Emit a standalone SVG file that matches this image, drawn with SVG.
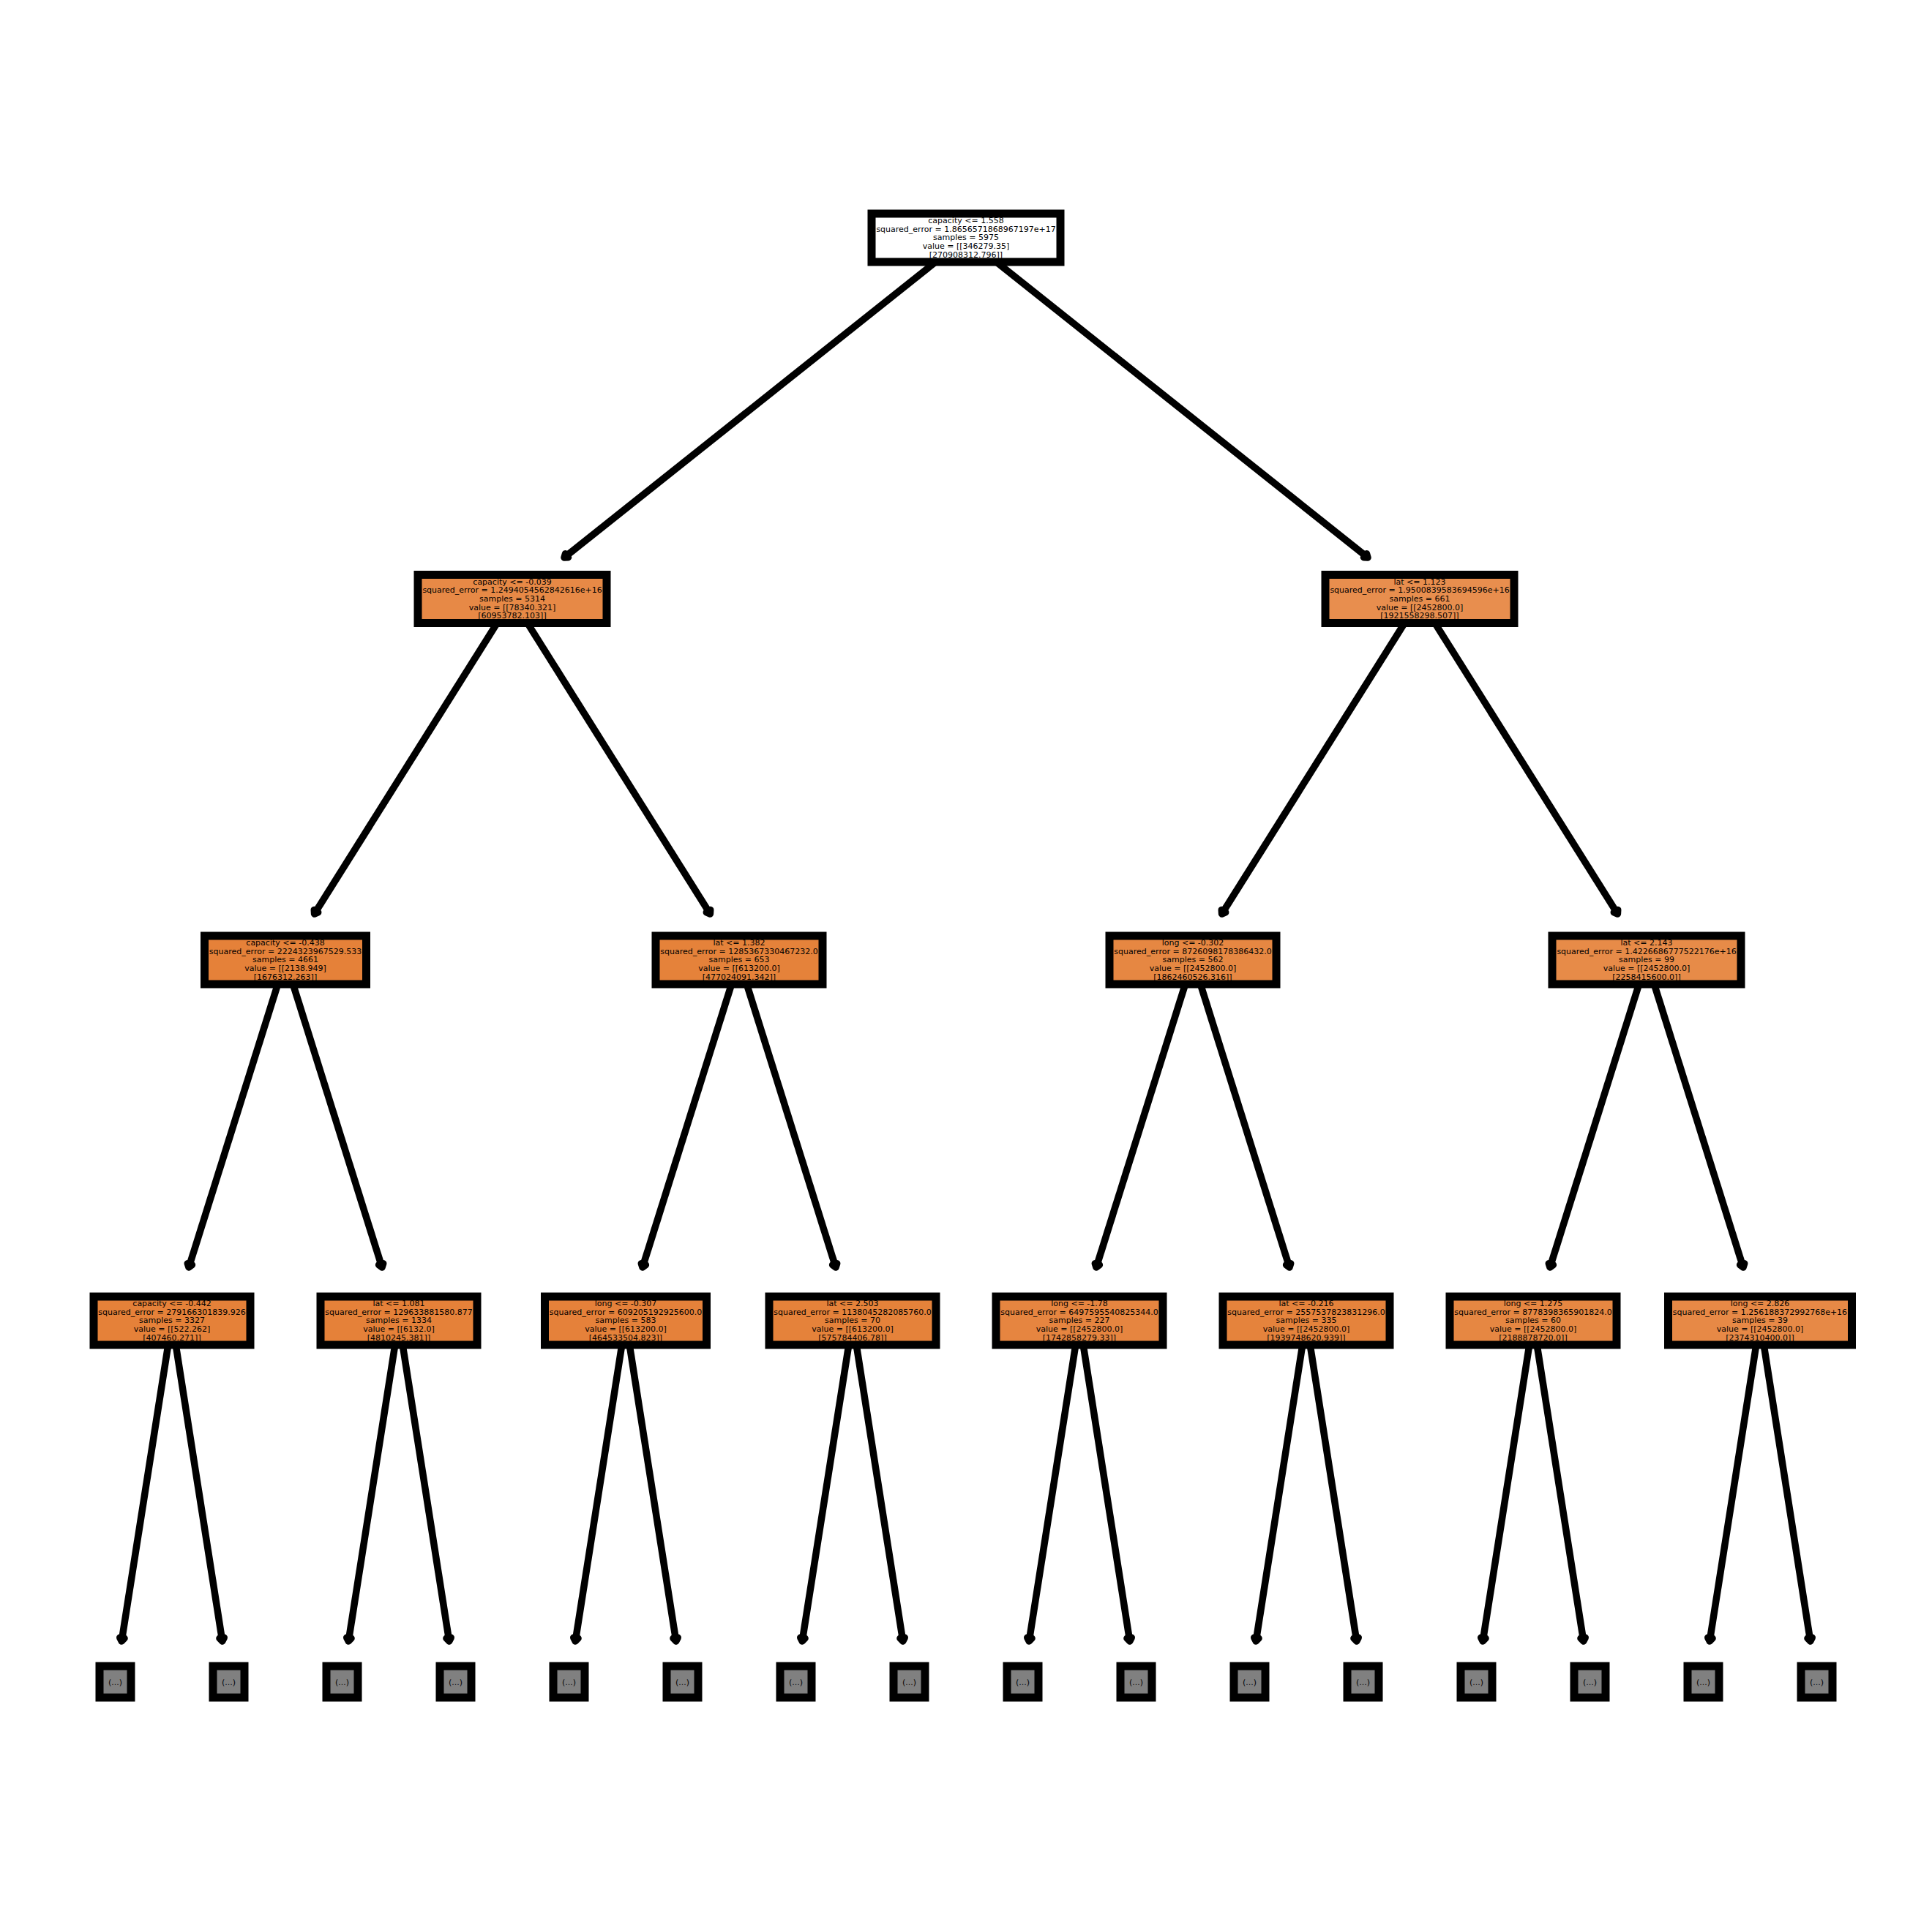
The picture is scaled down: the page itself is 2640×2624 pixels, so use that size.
<svg xmlns="http://www.w3.org/2000/svg" width="2640" height="2624" viewBox="0 0 2640 2624">
  <style>
    .frame { fill: none; stroke: #000; stroke-width: 11; }
    .t { font-family: "DejaVu Sans", "Liberation Sans", sans-serif; font-size: 11px; text-anchor: middle; fill: #000; }
    .edge { fill: none; stroke: #000; stroke-width: 9.5; marker-end: url(#tip); }
    .leaf { fill: #808080; }
  </style>
  <defs>
    <marker id="tip" markerUnits="userSpaceOnUse" orient="auto" viewBox="-12 -12 24 24" markerWidth="24" markerHeight="24" refX="0" refY="0" overflow="visible">
      <path d="M-4.5,-3.2 L0,0 L-4.5,3.2" fill="none" stroke="#000" stroke-width="9.5" stroke-linejoin="round" stroke-linecap="round"/>
    </marker>
  </defs>
  <rect width="2640" height="2624" fill="#fff"/>

  <!-- parent-to-child connectors -->
  <g id="edges">
    <path class="edge" d="M1320,325 L771,762"/>
    <path class="edge" d="M1320,325 L1869,762"/>
    <path class="edge" d="M700,818.5 L429.6,1249"/>
    <path class="edge" d="M700,818.5 L970.4,1249"/>
    <path class="edge" d="M1940,818.5 L1669.6,1249"/>
    <path class="edge" d="M1940,818.5 L2210.4,1249"/>
    <path class="edge" d="M390,1312 L258,1732"/>
    <path class="edge" d="M390,1312 L522,1732"/>
    <path class="edge" d="M1010,1312 L878,1732"/>
    <path class="edge" d="M1010,1312 L1142,1732"/>
    <path class="edge" d="M1630,1312 L1498,1732"/>
    <path class="edge" d="M1630,1312 L1762,1732"/>
    <path class="edge" d="M2250,1312 L2118,1732"/>
    <path class="edge" d="M2250,1312 L2382,1732"/>
    <path class="edge" d="M235,1805 L166.2,2243"/>
    <path class="edge" d="M235,1805 L303.8,2243"/>
    <path class="edge" d="M545,1805 L476.2,2243"/>
    <path class="edge" d="M545,1805 L613.8,2243"/>
    <path class="edge" d="M855,1805 L786.2,2243"/>
    <path class="edge" d="M855,1805 L923.8,2243"/>
    <path class="edge" d="M1165,1805 L1096.2,2243"/>
    <path class="edge" d="M1165,1805 L1233.8,2243"/>
    <path class="edge" d="M1475,1805 L1406.2,2243"/>
    <path class="edge" d="M1475,1805 L1543.8,2243"/>
    <path class="edge" d="M1785,1805 L1716.2,2243"/>
    <path class="edge" d="M1785,1805 L1853.8,2243"/>
    <path class="edge" d="M2095,1805 L2026.2,2243"/>
    <path class="edge" d="M2095,1805 L2163.8,2243"/>
    <path class="edge" d="M2405,1805 L2336.2,2243"/>
    <path class="edge" d="M2405,1805 L2473.8,2243"/>
  </g>

  <!-- root -->
  <g id="node0">
    <rect x="1191" y="292" width="258" height="66" fill="#ffffff"/>
    <text class="t"><tspan x="1320" y="305.2">capacity &lt;= 1.558</tspan><tspan x="1320" y="316.8">squared_error = 1.8656571868967197e+17</tspan><tspan x="1320" y="328.4">samples = 5975</tspan><tspan x="1320" y="340">value = [[346279.35]</tspan><tspan x="1320" y="351.6">[270908312.796]]</tspan></text>
    <rect class="frame" x="1191" y="292" width="258" height="66"/>
  </g>

  <!-- depth 1 -->
  <g id="node1">
    <rect x="571" y="785.5" width="258" height="66" fill="#e78946"/>
    <text class="t"><tspan x="700" y="798.7">capacity &lt;= -0.039</tspan><tspan x="700" y="810.3">squared_error = 1.2494054562842616e+16</tspan><tspan x="700" y="821.9">samples = 5314</tspan><tspan x="700" y="833.5">value = [[78340.321]</tspan><tspan x="700" y="845.1">[60953782.103]]</tspan></text>
    <rect class="frame" x="571" y="785.5" width="258" height="66"/>
  </g>
  <g id="node2">
    <rect x="1811" y="785.5" width="258" height="66" fill="#e88e4e"/>
    <text class="t"><tspan x="1940" y="798.7">lat &lt;= 1.123</tspan><tspan x="1940" y="810.3">squared_error = 1.9500839583694596e+16</tspan><tspan x="1940" y="821.9">samples = 661</tspan><tspan x="1940" y="833.5">value = [[2452800.0]</tspan><tspan x="1940" y="845.1">[1921558298.507]]</tspan></text>
    <rect class="frame" x="1811" y="785.5" width="258" height="66"/>
  </g>

  <!-- depth 2 -->
  <g id="node3">
    <rect x="279.5" y="1279" width="221" height="66" fill="#e58139"/>
    <text class="t"><tspan x="390" y="1292.2">capacity &lt;= -0.438</tspan><tspan x="390" y="1303.8">squared_error = 2224323967529.533</tspan><tspan x="390" y="1315.4">samples = 4661</tspan><tspan x="390" y="1327">value = [[2138.949]</tspan><tspan x="390" y="1338.6">[1676312.263]]</tspan></text>
    <rect class="frame" x="279.5" y="1279" width="221" height="66"/>
  </g>
  <g id="node4">
    <rect x="896" y="1279" width="228" height="66" fill="#e5823a"/>
    <text class="t"><tspan x="1010" y="1292.2">lat &lt;= 1.382</tspan><tspan x="1010" y="1303.8">squared_error = 1285367330467232.0</tspan><tspan x="1010" y="1315.4">samples = 653</tspan><tspan x="1010" y="1327">value = [[613200.0]</tspan><tspan x="1010" y="1338.6">[477024091.342]]</tspan></text>
    <rect class="frame" x="896" y="1279" width="228" height="66"/>
  </g>
  <g id="node5">
    <rect x="1516" y="1279" width="228" height="66" fill="#e68742"/>
    <text class="t"><tspan x="1630" y="1292.2">long &lt;= -0.302</tspan><tspan x="1630" y="1303.8">squared_error = 8726098178386432.0</tspan><tspan x="1630" y="1315.4">samples = 562</tspan><tspan x="1630" y="1327">value = [[2452800.0]</tspan><tspan x="1630" y="1338.6">[1862460526.316]]</tspan></text>
    <rect class="frame" x="1516" y="1279" width="228" height="66"/>
  </g>
  <g id="node6">
    <rect x="2121" y="1279" width="258" height="66" fill="#e78b48"/>
    <text class="t"><tspan x="2250" y="1292.2">lat &lt;= 2.143</tspan><tspan x="2250" y="1303.8">squared_error = 1.4226686777522176e+16</tspan><tspan x="2250" y="1315.4">samples = 99</tspan><tspan x="2250" y="1327">value = [[2452800.0]</tspan><tspan x="2250" y="1338.6">[2258415600.0]]</tspan></text>
    <rect class="frame" x="2121" y="1279" width="258" height="66"/>
  </g>

  <!-- depth 3 -->
  <g id="node7">
    <rect x="128" y="1772" width="214" height="66" fill="#e58139"/>
    <text class="t"><tspan x="235" y="1785.2">capacity &lt;= -0.442</tspan><tspan x="235" y="1796.8">squared_error = 279166301839.926</tspan><tspan x="235" y="1808.4">samples = 3327</tspan><tspan x="235" y="1820">value = [[522.262]</tspan><tspan x="235" y="1831.6">[407460.271]]</tspan></text>
    <rect class="frame" x="128" y="1772" width="214" height="66"/>
  </g>
  <g id="node8">
    <rect x="438" y="1772" width="214" height="66" fill="#e58139"/>
    <text class="t"><tspan x="545" y="1785.2">lat &lt;= 1.081</tspan><tspan x="545" y="1796.8">squared_error = 129633881580.877</tspan><tspan x="545" y="1808.4">samples = 1334</tspan><tspan x="545" y="1820">value = [[6132.0]</tspan><tspan x="545" y="1831.6">[4810245.381]]</tspan></text>
    <rect class="frame" x="438" y="1772" width="214" height="66"/>
  </g>
  <g id="node9">
    <rect x="744.5" y="1772" width="221" height="66" fill="#e5813a"/>
    <text class="t"><tspan x="855" y="1785.2">long &lt;= -0.307</tspan><tspan x="855" y="1796.8">squared_error = 609205192925600.0</tspan><tspan x="855" y="1808.4">samples = 583</tspan><tspan x="855" y="1820">value = [[613200.0]</tspan><tspan x="855" y="1831.6">[464533504.823]]</tspan></text>
    <rect class="frame" x="744.5" y="1772" width="221" height="66"/>
  </g>
  <g id="node10">
    <rect x="1051" y="1772" width="228" height="66" fill="#e5823a"/>
    <text class="t"><tspan x="1165" y="1785.2">lat &lt;= 2.503</tspan><tspan x="1165" y="1796.8">squared_error = 1138045282085760.0</tspan><tspan x="1165" y="1808.4">samples = 70</tspan><tspan x="1165" y="1820">value = [[613200.0]</tspan><tspan x="1165" y="1831.6">[575784406.78]]</tspan></text>
    <rect class="frame" x="1051" y="1772" width="228" height="66"/>
  </g>
  <g id="node11">
    <rect x="1361" y="1772" width="228" height="66" fill="#e68540"/>
    <text class="t"><tspan x="1475" y="1785.2">long &lt;= -1.78</tspan><tspan x="1475" y="1796.8">squared_error = 6497595540825344.0</tspan><tspan x="1475" y="1808.4">samples = 227</tspan><tspan x="1475" y="1820">value = [[2452800.0]</tspan><tspan x="1475" y="1831.6">[1742858279.33]]</tspan></text>
    <rect class="frame" x="1361" y="1772" width="228" height="66"/>
  </g>
  <g id="node12">
    <rect x="1671" y="1772" width="228" height="66" fill="#e5833c"/>
    <text class="t"><tspan x="1785" y="1785.2">lat &lt;= -0.216</tspan><tspan x="1785" y="1796.8">squared_error = 2557537823831296.0</tspan><tspan x="1785" y="1808.4">samples = 335</tspan><tspan x="1785" y="1820">value = [[2452800.0]</tspan><tspan x="1785" y="1831.6">[1939748620.939]]</tspan></text>
    <rect class="frame" x="1671" y="1772" width="228" height="66"/>
  </g>
  <g id="node13">
    <rect x="1981" y="1772" width="228" height="66" fill="#e68742"/>
    <text class="t"><tspan x="2095" y="1785.2">long &lt;= 1.275</tspan><tspan x="2095" y="1796.8">squared_error = 8778398365901824.0</tspan><tspan x="2095" y="1808.4">samples = 60</tspan><tspan x="2095" y="1820">value = [[2452800.0]</tspan><tspan x="2095" y="1831.6">[2188878720.0]]</tspan></text>
    <rect class="frame" x="1981" y="1772" width="228" height="66"/>
  </g>
  <g id="node14">
    <rect x="2279.5" y="1772" width="251" height="66" fill="#e78946"/>
    <text class="t"><tspan x="2405" y="1785.2">long &lt;= 2.826</tspan><tspan x="2405" y="1796.8">squared_error = 1.256188372992768e+16</tspan><tspan x="2405" y="1808.4">samples = 39</tspan><tspan x="2405" y="1820">value = [[2452800.0]</tspan><tspan x="2405" y="1831.6">[2374310400.0]]</tspan></text>
    <rect class="frame" x="2279.5" y="1772" width="251" height="66"/>
  </g>

  <!-- truncated subtrees -->
  <g id="leaf0"><rect class="leaf" x="136" y="2277" width="43" height="43"/><text class="t" x="157.5" y="2302.5">(...)</text><rect class="frame" x="136" y="2277" width="43" height="43"/></g>
  <g id="leaf1"><rect class="leaf" x="291" y="2277" width="43" height="43"/><text class="t" x="312.5" y="2302.5">(...)</text><rect class="frame" x="291" y="2277" width="43" height="43"/></g>
  <g id="leaf2"><rect class="leaf" x="446" y="2277" width="43" height="43"/><text class="t" x="467.5" y="2302.5">(...)</text><rect class="frame" x="446" y="2277" width="43" height="43"/></g>
  <g id="leaf3"><rect class="leaf" x="601" y="2277" width="43" height="43"/><text class="t" x="622.5" y="2302.5">(...)</text><rect class="frame" x="601" y="2277" width="43" height="43"/></g>
  <g id="leaf4"><rect class="leaf" x="756" y="2277" width="43" height="43"/><text class="t" x="777.5" y="2302.5">(...)</text><rect class="frame" x="756" y="2277" width="43" height="43"/></g>
  <g id="leaf5"><rect class="leaf" x="911" y="2277" width="43" height="43"/><text class="t" x="932.5" y="2302.5">(...)</text><rect class="frame" x="911" y="2277" width="43" height="43"/></g>
  <g id="leaf6"><rect class="leaf" x="1066" y="2277" width="43" height="43"/><text class="t" x="1087.5" y="2302.5">(...)</text><rect class="frame" x="1066" y="2277" width="43" height="43"/></g>
  <g id="leaf7"><rect class="leaf" x="1221" y="2277" width="43" height="43"/><text class="t" x="1242.5" y="2302.5">(...)</text><rect class="frame" x="1221" y="2277" width="43" height="43"/></g>
  <g id="leaf8"><rect class="leaf" x="1376" y="2277" width="43" height="43"/><text class="t" x="1397.5" y="2302.5">(...)</text><rect class="frame" x="1376" y="2277" width="43" height="43"/></g>
  <g id="leaf9"><rect class="leaf" x="1531" y="2277" width="43" height="43"/><text class="t" x="1552.5" y="2302.5">(...)</text><rect class="frame" x="1531" y="2277" width="43" height="43"/></g>
  <g id="leaf10"><rect class="leaf" x="1686" y="2277" width="43" height="43"/><text class="t" x="1707.5" y="2302.5">(...)</text><rect class="frame" x="1686" y="2277" width="43" height="43"/></g>
  <g id="leaf11"><rect class="leaf" x="1841" y="2277" width="43" height="43"/><text class="t" x="1862.5" y="2302.5">(...)</text><rect class="frame" x="1841" y="2277" width="43" height="43"/></g>
  <g id="leaf12"><rect class="leaf" x="1996" y="2277" width="43" height="43"/><text class="t" x="2017.5" y="2302.5">(...)</text><rect class="frame" x="1996" y="2277" width="43" height="43"/></g>
  <g id="leaf13"><rect class="leaf" x="2151" y="2277" width="43" height="43"/><text class="t" x="2172.5" y="2302.5">(...)</text><rect class="frame" x="2151" y="2277" width="43" height="43"/></g>
  <g id="leaf14"><rect class="leaf" x="2306" y="2277" width="43" height="43"/><text class="t" x="2327.5" y="2302.5">(...)</text><rect class="frame" x="2306" y="2277" width="43" height="43"/></g>
  <g id="leaf15"><rect class="leaf" x="2461" y="2277" width="43" height="43"/><text class="t" x="2482.5" y="2302.5">(...)</text><rect class="frame" x="2461" y="2277" width="43" height="43"/></g>
</svg>
